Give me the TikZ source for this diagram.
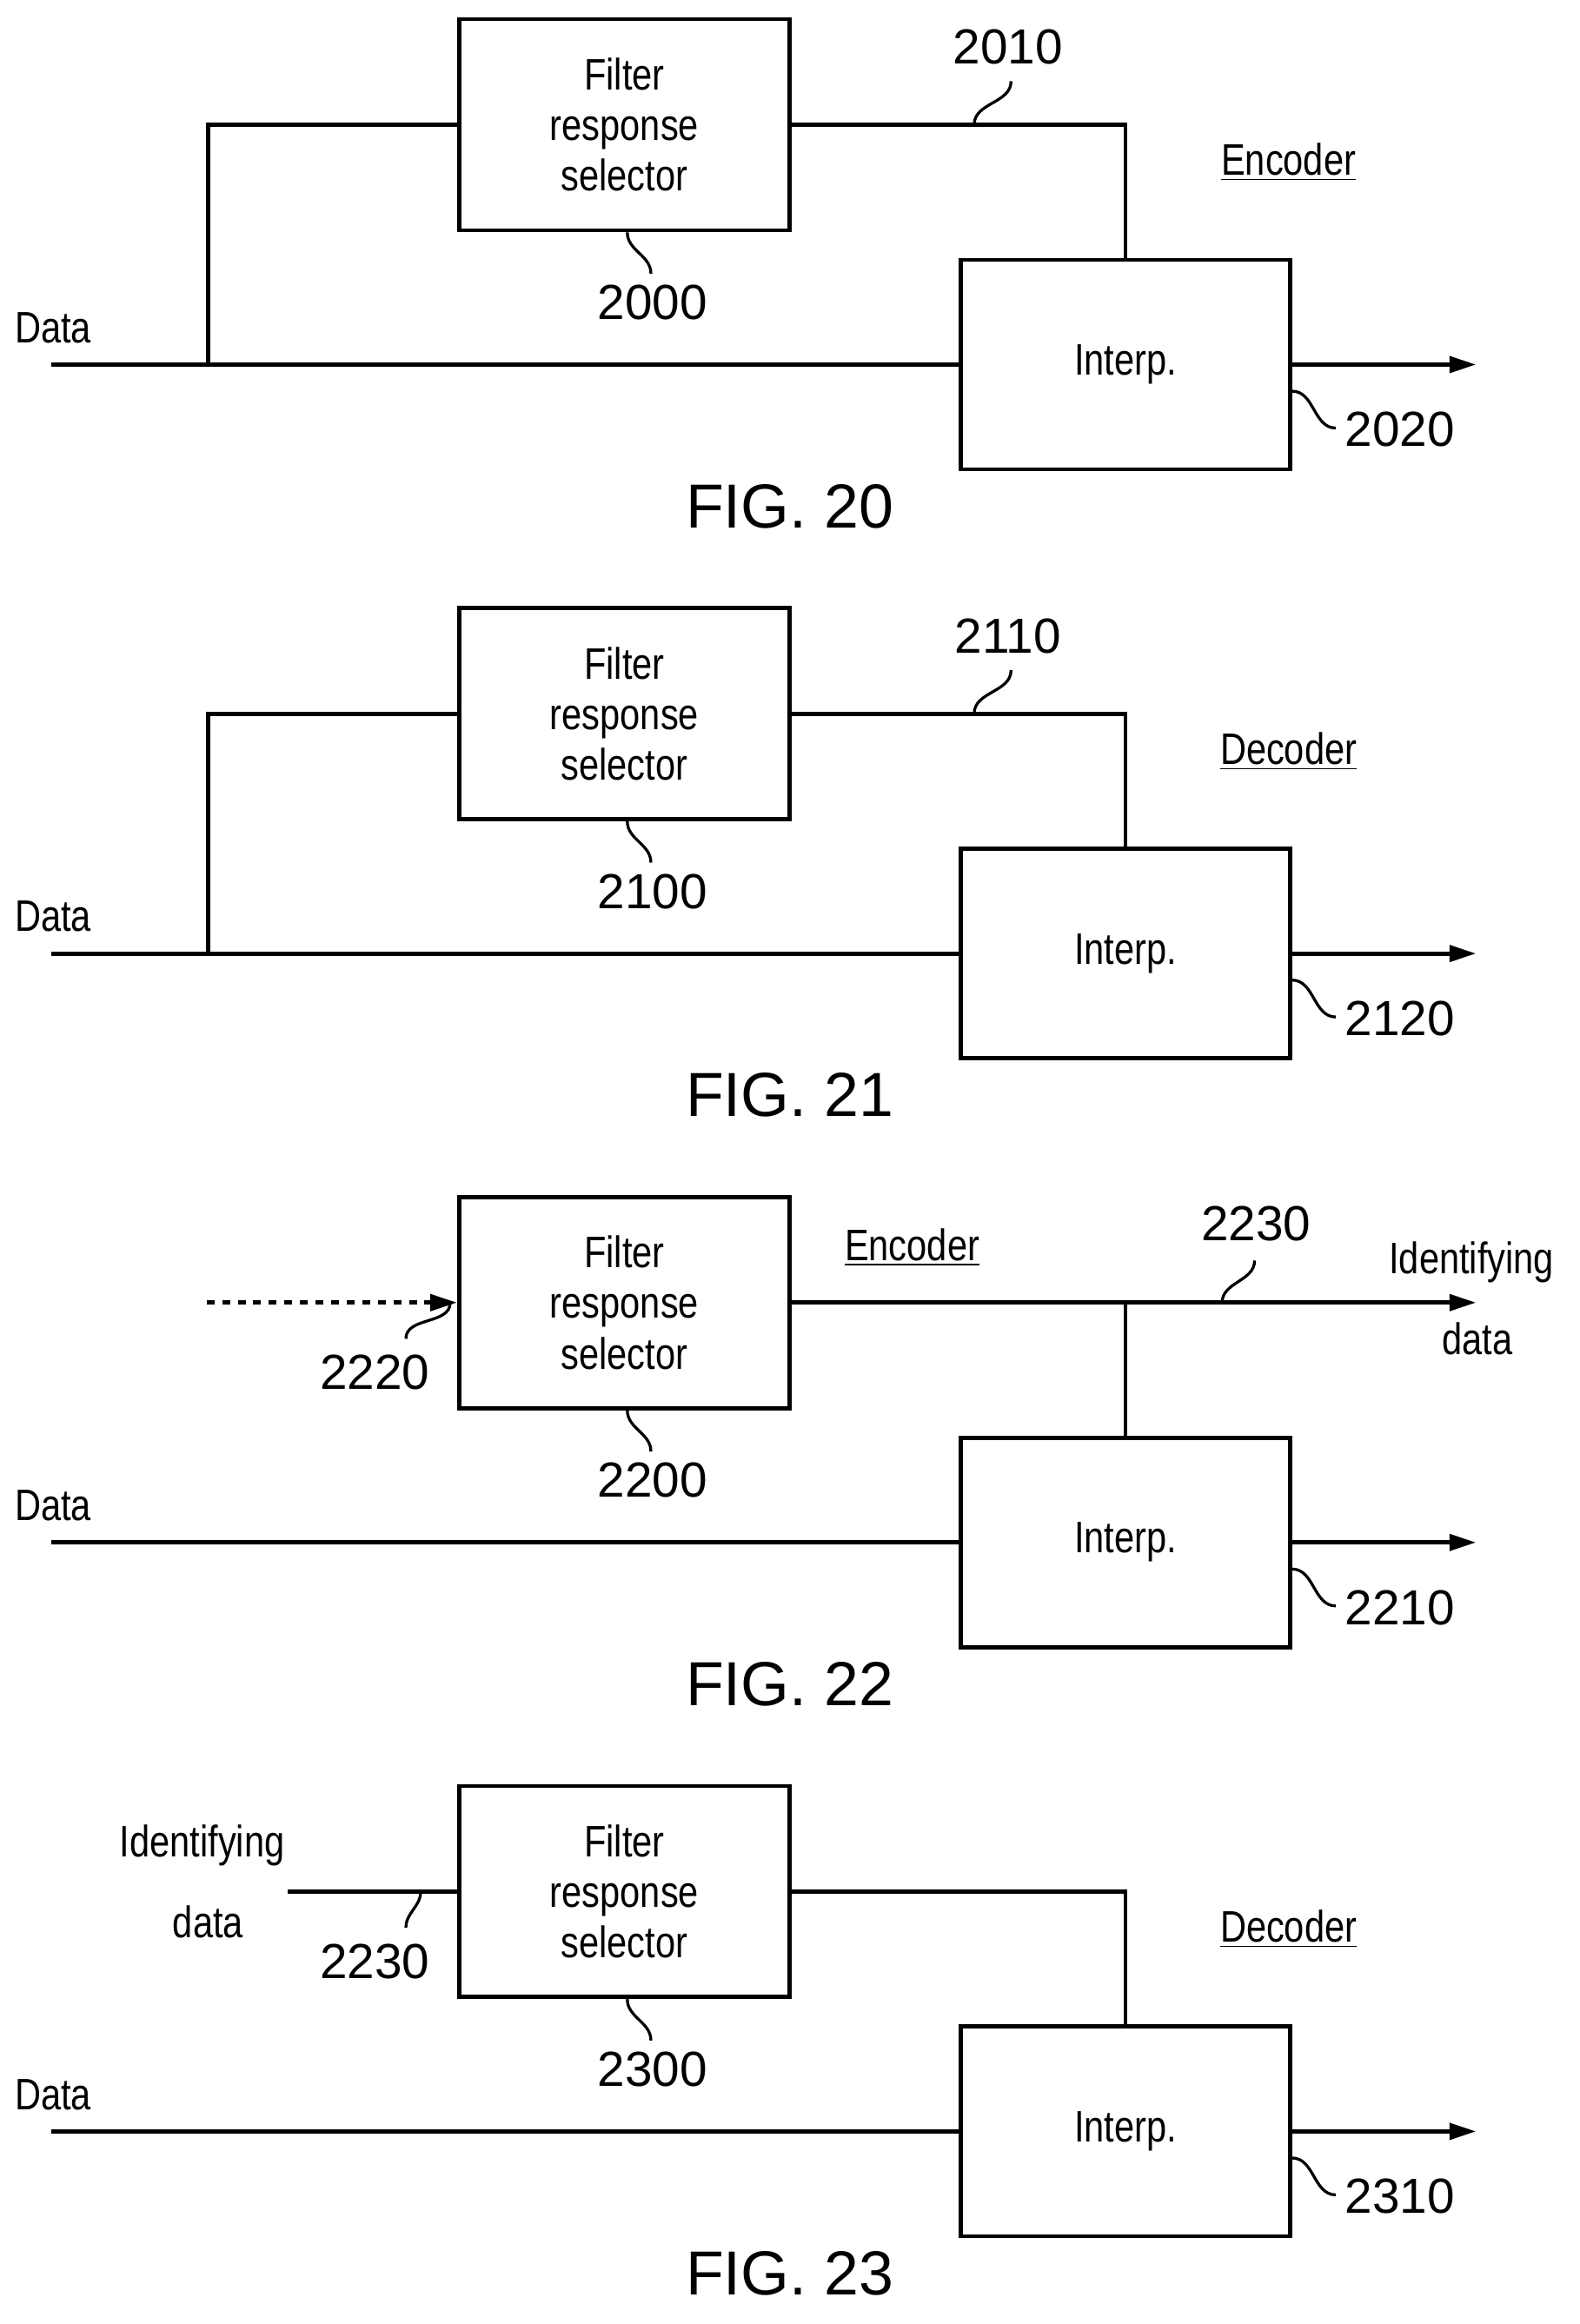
\documentclass[tikz,border=0pt]{standalone}
\usepackage{fontspec}
\setmainfont{Liberation Sans}
\usetikzlibrary{arrows.meta}
\newcommand{\nrw}[1]{\scalebox{0.82}[1]{#1}}
\tikzset{
  box/.style={draw, line width=1.6pt, minimum width=4.48cm, minimum height=2.86cm, align=center,
    font=\fontsize{17}{19.5}\selectfont},
  txt/.style={font=\fontsize{17}{20}\selectfont},
  num/.style={font=\fontsize{19}{22}\selectfont},
  fig/.style={font=\fontsize{24}{28}\selectfont},
  wire/.style={line width=1.6pt},
  lead/.style={line width=1.1pt},
}
\begin{document}
\begin{tikzpicture}[>={Triangle[length=0.36cm,width=0.22cm]}]
\useasboundingbox (0,0) rectangle (21.4,-31.49);

% FIG. 20 and FIG. 21
\foreach \f/\k/\lab in {20/0/Encoder, 21/1/Decoder} {
  \begin{scope}[yshift=-\k*7.98cm]
    \node[box] (fs) at (8.46,-1.69) {\nrw{Filter}\\\nrw{response}\\\nrw{selector}};
    \node[box, minimum width=4.46cm, minimum height=2.84cm] (ip) at (15.25,-4.94) {\nrw{Interp.}};
    \coordinate (din) at (0.7,-4.94);
    \coordinate (br) at (2.82,-4.94);
    \coordinate (out) at (20,-4.94);
    \draw[wire] (din) -- (ip.west);
    \draw[wire] (br) |- (fs.west);
    \draw[wire] (fs.east) -| (ip.north);
    \draw[wire,->] (ip.east) -- (out);
    % labels
    \node[txt] (data) at (0.72,-4.44) {\nrw{Data}};
    \node[txt] (mode) at (17.46,-2.2) {\nrw{\underline{\lab}}};
    \draw[lead] (13.2,-1.69) to[out=90,in=-90] (13.7,-1.1);
    \node[num] at (13.66,-0.64) {\f10};
    \draw[lead] ([xshift=0.04cm]fs.south) to[out=-90,in=90] ++(0.32,-0.56);
    \node[num] at (8.84,-4.1) {\f00};
    \draw[lead] ([yshift=-0.36cm]ip.east) to[out=0,in=180] (18.1,-5.8);
    \node[num, anchor=west] at (18.1,-5.82) {\f20};
    \node[fig] at (10.7,-6.86) {FIG. \f};
  \end{scope}
}

% FIG. 22
\begin{scope}[yshift=-15.96cm]
  \node[box] (fs) at (8.46,-1.69) {\nrw{Filter}\\\nrw{response}\\\nrw{selector}};
  \node[box, minimum width=4.46cm, minimum height=2.84cm] (ip) at (15.25,-4.94) {\nrw{Interp.}};
  \coordinate (din) at (0.7,-4.94);
  \coordinate (out) at (20,-4.94);
  \coordinate (idout) at (20,-1.69);
  \coordinate (jn) at (15.25,-1.69);
  \coordinate (dashin) at (2.8,-1.69);
  \draw[wire] (din) -- (ip.west);
  \draw[wire,->] (fs.east) -- (idout);
  \draw[wire] (jn) -- (ip.north);
  \draw[wire,dashed,->] (dashin) -- (fs.west);
  \draw[wire,->] (ip.east) -- (out);
  \node[txt] at (0.72,-4.44) {\nrw{Data}};
  \node[txt] at (12.36,-0.94) {\nrw{\underline{Encoder}}};
  \node[txt] at (19.94,-1.14) {\nrw{Identifying}};
  \node[txt] at (20.02,-2.18) {\nrw{data}};
  \draw[lead] (16.56,-1.69) to[out=90,in=-90] (17.0,-1.12);
  \node[num] at (17.02,-0.62) {2230};
  \draw[lead] (6.1,-1.69) to[out=-90,in=90] (5.5,-2.18);
  \node[num] at (5.08,-2.64) {2220};
  \draw[lead] ([xshift=0.04cm]fs.south) to[out=-90,in=90] ++(0.32,-0.56);
  \node[num] at (8.84,-4.1) {2200};
  \draw[lead] ([yshift=-0.36cm]ip.east) to[out=0,in=180] (18.1,-5.8);
  \node[num, anchor=west] at (18.1,-5.82) {2210};
  \node[fig] at (10.7,-6.86) {FIG. 22};
\end{scope}

% FIG. 23
\begin{scope}[yshift=-23.94cm]
  \node[box] (fs) at (8.46,-1.69) {\nrw{Filter}\\\nrw{response}\\\nrw{selector}};
  \node[box, minimum width=4.46cm, minimum height=2.84cm] (ip) at (15.25,-4.94) {\nrw{Interp.}};
  \coordinate (din) at (0.7,-4.94);
  \coordinate (out) at (20,-4.94);
  \coordinate (idin) at (3.9,-1.69);
  \draw[wire] (din) -- (ip.west);
  \draw[wire] (idin) -- (fs.west);
  \draw[wire] (fs.east) -| (ip.north);
  \draw[wire,->] (ip.east) -- (out);
  \node[txt] at (0.72,-4.44) {\nrw{Data}};
  \node[txt] at (17.46,-2.2) {\nrw{\underline{Decoder}}};
  \node[txt] at (2.74,-1.06) {\nrw{Identifying}};
  \node[txt] at (2.82,-2.1) {\nrw{data}};
  \draw[lead] (5.7,-1.69) to[out=-90,in=90] (5.5,-2.18);
  \node[num] at (5.08,-2.64) {2230};
  \draw[lead] ([xshift=0.04cm]fs.south) to[out=-90,in=90] ++(0.32,-0.56);
  \node[num] at (8.84,-4.1) {2300};
  \draw[lead] ([yshift=-0.36cm]ip.east) to[out=0,in=180] (18.1,-5.8);
  \node[num, anchor=west] at (18.1,-5.82) {2310};
  \node[fig] at (10.7,-6.86) {FIG. 23};
\end{scope}
\end{tikzpicture}
\end{document}
